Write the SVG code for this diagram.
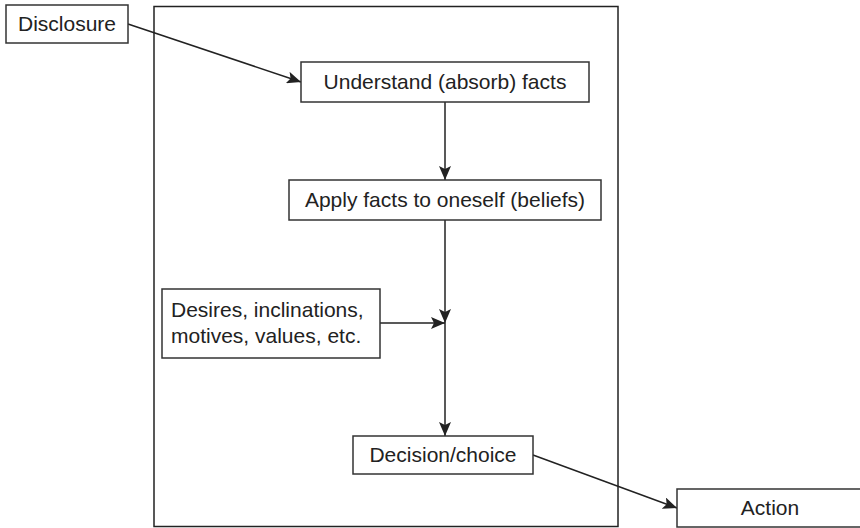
<svg xmlns="http://www.w3.org/2000/svg" width="860" height="528" viewBox="0 0 860 528">
<style>
.box{fill:#fff;stroke:#333;stroke-width:1.5}
.frame{fill:none;stroke:#222;stroke-width:1.5}
.t{font-family:"Liberation Sans",Arial,sans-serif;font-size:21px;fill:#222}
.c{text-anchor:middle}
.ln{fill:none;stroke:#222;stroke-width:1.5}
</style>
<defs>
<marker id="ah" markerUnits="userSpaceOnUse" markerWidth="14" markerHeight="12" viewBox="0 0 14 12" refX="14" refY="6" orient="auto">
<path d="M0,0 L14,6 L0,12 L3,6 z" fill="#222"/>
</marker>
</defs>
<rect class="frame" x="154" y="6.5" width="464" height="520"/>
<g id="connectors">
<line class="ln" x1="128" y1="24" x2="301" y2="82" marker-end="url(#ah)"/>
<line class="ln" x1="445" y1="102" x2="445" y2="180" marker-end="url(#ah)"/>
<line class="ln" x1="445" y1="220" x2="445" y2="323" marker-end="url(#ah)"/>
<line class="ln" x1="380" y1="323" x2="445" y2="323" marker-end="url(#ah)"/>
<line class="ln" x1="445" y1="323" x2="445" y2="436" marker-end="url(#ah)"/>
<line class="ln" x1="533" y1="455" x2="677" y2="508" marker-end="url(#ah)"/>
</g>
<g id="disclosure">
<rect class="box" x="6" y="5" width="122" height="38"/>
<text class="t c" x="67" y="31">Disclosure</text>
</g>
<g id="understand">
<rect class="box" x="301" y="62" width="288" height="40"/>
<text class="t c" x="445" y="89">Understand (absorb) facts</text>
</g>
<g id="apply">
<rect class="box" x="289" y="180" width="312" height="40"/>
<text class="t c" x="445" y="207">Apply facts to oneself (beliefs)</text>
</g>
<g id="desires">
<rect class="box" x="162" y="289" width="218" height="69"/>
<text class="t" x="171" y="317">Desires, inclinations,</text>
<text class="t" x="171" y="343">motives, values, etc.</text>
</g>
<g id="decision">
<rect class="box" x="353" y="436" width="180" height="38"/>
<text class="t c" x="443" y="462">Decision/choice</text>
</g>
<g id="action">
<rect class="box" x="677" y="489" width="190" height="38"/>
<text class="t c" x="770" y="515">Action</text>
</g>
</svg>
